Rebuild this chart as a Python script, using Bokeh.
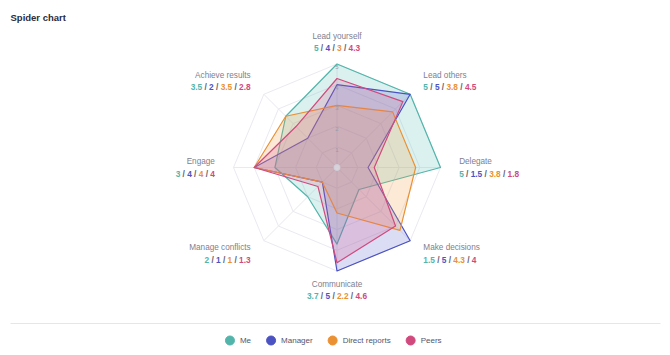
import math
from bokeh.plotting import figure
from bokeh.models import ColumnDataSource, Label
from bokeh.embed import file_html
from bokeh.resources import INLINE
from bokeh.core.properties import value

# ---------------- data ----------------
categories = ["Lead yourself", "Lead others", "Delegate", "Make decisions",
              "Communicate", "Manage conflicts", "Engage", "Achieve results"]
series_names = ["Me", "Manager", "Direct reports", "Peers"]
me = [5, 5, 5, 1.5, 3.7, 2, 3, 3.5]
manager = [4, 5, 1.5, 5, 5, 1, 4, 2]
direct_reports = [3, 3.8, 3.8, 4.3, 2.2, 1, 4, 3.5]
peers = [4.3, 4.5, 1.8, 4, 4.6, 1.3, 4, 2.8]
grid_levels = [1, 2, 3, 4, 5]
tick_labels = ["1", "2", "3", "4", "5"]

series_values = [me, manager, direct_reports, peers]
line_colors = ["#52b5ab", "#4b52c2", "#ea9133", "#d04a7e"]
fill_colors = ["#5cc0b6", "#5a62d2", "#f0a048", "#d85a8c"]
sep_color = "#5e5e72"
title_color = "#80808f"

# ---------------- geometry ----------------
W, H = 670, 355
PX = 20.7            # pixels per value unit
CX, CY = 336.5, 167  # centre in figure pixels (from top-left)
x_start, x_end = -CX / PX, (W - CX) / PX
y_start, y_end = -(H - CY) / PX, CY / PX


def dx(px):
    return x_start + px / PX


def dy(py):
    return y_end - py / PX


n = len(categories)
angles = [2 * math.pi * i / n for i in range(n)]


def pt(v, a):
    return v * math.sin(a), v * math.cos(a)


p = figure(width=W, height=H, x_range=(x_start, x_end), y_range=(y_start, y_end),
           output_backend="svg", toolbar_location=None, min_border=0,
           x_axis_location=None, y_axis_location=None)
p.grid.visible = False
p.outline_line_color = None
p.background_fill_color = "white"
p.border_fill_color = "white"

# grid rings
ring_xs, ring_ys = [], []
for lv in grid_levels:
    xs = [pt(lv, a)[0] for a in angles] + [pt(lv, angles[0])[0]]
    ys = [pt(lv, a)[1] for a in angles] + [pt(lv, angles[0])[1]]
    ring_xs.append(xs)
    ring_ys.append(ys)
p.multi_line(ring_xs, ring_ys, line_color="#e9e9f0", line_width=1)

# spokes
top = max(grid_levels)
p.segment(x0=[0] * n, y0=[0] * n, x1=[pt(top, a)[0] for a in angles],
          y1=[pt(top, a)[1] for a in angles], line_color="#e9e9f0", line_width=1)

# series polygons
for vals, lc, fc in zip(series_values, line_colors, fill_colors):
    xs = [pt(v, a)[0] for v, a in zip(vals, angles)]
    ys = [pt(v, a)[1] for v, a in zip(vals, angles)]
    p.patch(xs, ys, fill_color=fc, fill_alpha=0.22, line_color=lc, line_width=1.2,
            line_join="round")

# centre dot
p.scatter([0], [0], size=6, fill_color="#dcdce4", line_color="#cfcfda", fill_alpha=0.8)

# tick labels along top spoke
p.text(x=[0] * len(grid_levels), y=grid_levels, text=tick_labels,
       text_font=value("Liberation Sans"), text_font_size="6px",
       text_color="#9a9aa8", text_align="center", text_baseline="top", y_offset=1)

# ---------------- category labels ----------------
W_BOLD = {"0": .556, "1": .556, "2": .556, "3": .556, "4": .556, "5": .556,
          "6": .556, "7": .556, "8": .556, "9": .556, ".": .278, "/": .278, " ": .278}
VAL_FS = 8.3
TIT_FS = 8.2


def fmt(v):
    return f"{v:g}"


seg = dict(x=[], y=[], text=[], color=[], xo=[], yo=[])
tit = {"left": dict(x=[], y=[], text=[], yo=[]),
       "center": dict(x=[], y=[], text=[], yo=[]),
       "right": dict(x=[], y=[], text=[], yo=[])}

for i, (cat, a) in enumerate(zip(categories, angles)):
    s, c = math.sin(a), math.cos(a)
    if abs(s) < 1e-6:
        r = 5.56 if c > 0 else 5.4
        align = "center"
        if c > 0:
            t_off, v_off = -16, -4
        else:
            t_off, v_off = 5, 17
    else:
        r = 5.9
        align = "left" if s > 0 else "right"
        t_off, v_off = -6, 6
    ax, ay = r * s, r * c
    tit[align]["x"].append(ax)
    tit[align]["y"].append(ay)
    tit[align]["text"].append(cat)
    tit[align]["yo"].append(t_off)

    # (text, colour, advance) — spaces around slashes are advances, not glyphs
    parts = []
    for k, vals in enumerate(series_values):
        if k > 0:
            parts.append(("/", sep_color, " / "))
        t = fmt(vals[i])
        parts.append((t, line_colors[k], t))
    widths = [sum(W_BOLD.get(ch, .556) for ch in adv) * VAL_FS for _, _, adv in parts]
    total = sum(widths)
    start = 0 if align == "left" else (-total if align == "right" else -total / 2)
    off = start
    for (t, col, adv), w in zip(parts, widths):
        lead = W_BOLD[" "] * VAL_FS if adv.startswith(" ") else 0
        seg["x"].append(ax)
        seg["y"].append(ay)
        seg["text"].append(t)
        seg["color"].append(col)
        seg["xo"].append(off + lead)
        seg["yo"].append(v_off)
        off += w

for align, d in tit.items():
    if d["x"]:
        p.text(x="x", y="y", text="text", y_offset="yo", source=ColumnDataSource(d),
               text_font=value("Liberation Sans"), text_font_size=f"{TIT_FS}px",
               text_color=title_color, text_align=align, text_baseline="middle")

p.text(x="x", y="y", text="text", x_offset="xo", y_offset="yo", text_color="color",
       source=ColumnDataSource(seg), text_font=value("Liberation Sans"),
       text_font_size=f"{VAL_FS}px", text_font_style="bold",
       text_align="left", text_baseline="middle")

# ---------------- title ----------------
p.add_layout(Label(x=dx(10), y=dy(17), text="Spider chart", text_font="Liberation Sans",
                   text_font_size="9.5px", text_font_style="bold", text_color="#2c2c3c",
                   text_baseline="middle", text_align="left"))

# separator
p.line([dx(10), dx(660)], [dy(323), dy(323)], line_color="#e3e6ef", line_width=1)

# ---------------- legend ----------------
W_REG = {"M": .833, "e": .556, "a": .556, "n": .556, "g": .556, "r": .333, "D": .722,
         "i": .222, "c": .5, "t": .278, " ": .278, "p": .556, "o": .556, "s": .5, "P": .667}
LEG_FS = 8
tw = [sum(W_REG.get(ch, .556) for ch in nm) * LEG_FS for nm in series_names]
STAND, GAP, RAD = 10, 20, 4.5
total = RAD + sum(STAND + w for w in tw) + GAP * (len(tw) - 1)
cx0 = 333 - total / 2 + RAD
cxs, txs = [], []
cx = cx0
for w in tw:
    cxs.append(cx)
    txs.append(cx + STAND)
    cx = cx + STAND + w + GAP
ly = dy(340)
p.scatter([dx(v) for v in cxs], [ly] * len(cxs), size=9, fill_color=line_colors,
          line_color=line_colors)
p.text(x=[dx(v) for v in txs], y=[ly] * len(txs), text=series_names,
       text_font=value("Liberation Sans"), text_font_size=f"{LEG_FS}px",
       text_color="#55556a", text_align="left", text_baseline="middle")

open("out.html", "w").write(file_html(p, INLINE))
